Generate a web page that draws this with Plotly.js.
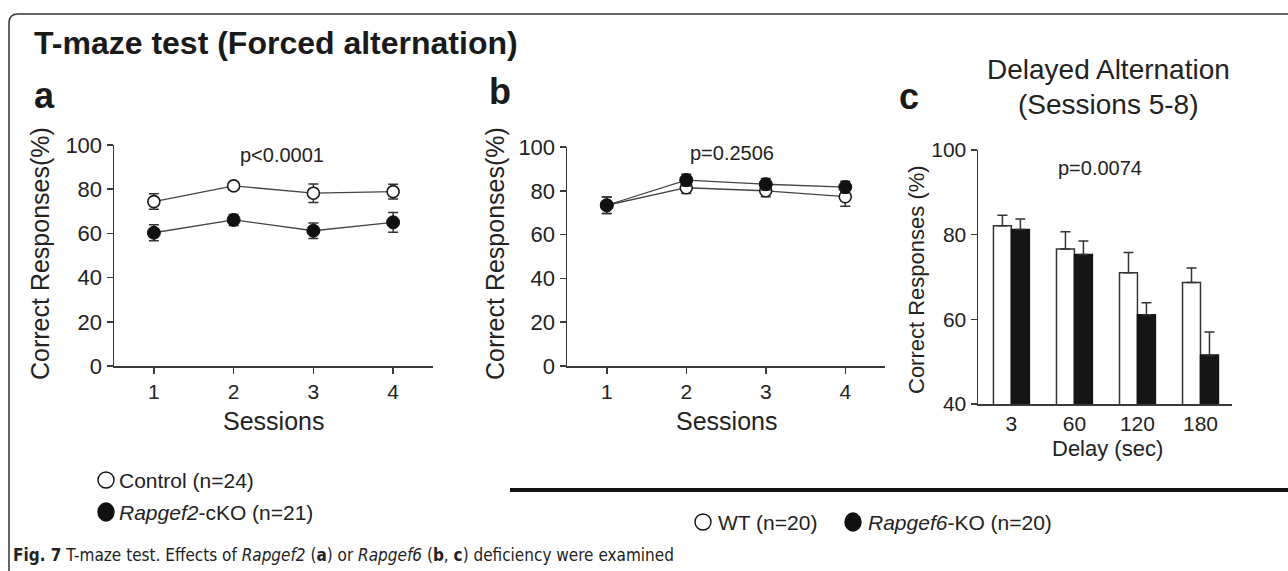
<!DOCTYPE html>
<html>
<head>
<meta charset="utf-8">
<script src="https://cdn.plot.ly/plotly-3.0.1.min.js"></script>
<style>html,body{margin:0;padding:0;background:#fff;}#chart{width:1288px;height:571px;}</style>
</head>
<body>
<div id="chart"></div>
<script>
// ---- data ----
const sessions = [1, 2, 3, 4];
const sessionTicks = ['1', '2', '3', '4'];
// panel a: Rapgef2 cohort
const aControl = [74.4, 81.5, 78.2, 78.9];
const aControlErr = [3.5, 1.8, 4.2, 3.3];
const aCKO = [60.3, 66.1, 61.2, 65.0];
const aCKOErr = [3.6, 2.5, 3.5, 4.5];
// panel b: Rapgef6 cohort, forced alternation
const bWT = [73.4, 81.4, 80.0, 77.3];
const bWTErr = [3.8, 2.6, 2.7, 4.3];
const bKO = [73.4, 84.9, 83.0, 81.7];
const bKOErr = [3.8, 2.7, 2.6, 2.7];
// panel c: delayed alternation (sessions 5-8)
const delays = ['3', '60', '120', '180'];
const cWT = [82.1, 76.6, 71.0, 68.7];
const cWTErr = [2.5, 4.1, 4.8, 3.4];
const cKO = [81.2, 75.3, 61.1, 51.6];
const cKOErr = [2.5, 3.2, 2.8, 5.4];
const noErr = [0, 0, 0, 0];
const abTicksY = [0, 20, 40, 60, 80, 100];
const cTicksY = [40, 60, 80, 100];

// ---- layout helpers ----
const W = 1288, H = 571;
const px = x => x / W;
const py = y => 1 - y / H;
const FONT = 'Liberation Sans, Arial, Helvetica, sans-serif';
const INK = '#222';
const AX = '#3a3a3a';

const openMarker = {symbol: 'circle', size: 12, color: '#fff', line: {color: '#1a1a1a', width: 1.6}};
const fillMarker = {symbol: 'circle', size: 13, color: '#111', line: {color: '#111', width: 1}};
const lineStyle = {color: '#444', width: 1.3};
const err = arr => ({type: 'data', array: arr, visible: true, color: '#333', thickness: 1.5, width: 5});

const traces = [
  {x: sessions, y: aControl, error_y: err(aControlErr), type: 'scatter', mode: 'lines+markers',
   line: lineStyle, marker: openMarker, xaxis: 'x', yaxis: 'y', name: 'Control (n=24)'},
  {x: sessions, y: aCKO, error_y: err(aCKOErr), type: 'scatter', mode: 'lines+markers',
   line: lineStyle, marker: fillMarker, xaxis: 'x', yaxis: 'y', name: 'Rapgef2-cKO (n=21)'},
  {x: sessions, y: bWT, error_y: err(bWTErr), type: 'scatter', mode: 'lines+markers',
   line: lineStyle, marker: openMarker, xaxis: 'x2', yaxis: 'y2', name: 'WT (n=20)'},
  {x: sessions, y: bKO, error_y: err(bKOErr), type: 'scatter', mode: 'lines+markers',
   line: lineStyle, marker: fillMarker, xaxis: 'x2', yaxis: 'y2', name: 'Rapgef6-KO (n=20)'},
  {x: delays, y: cWT, type: 'bar', xaxis: 'x3', yaxis: 'y3', name: 'WT (n=20)',
   marker: {color: '#fff', line: {color: '#333', width: 1.5}},
   error_y: Object.assign(err(cWTErr), {symmetric: false, arrayminus: noErr})},
  {x: delays, y: cKO, type: 'bar', xaxis: 'x3', yaxis: 'y3', name: 'Rapgef6-KO (n=20)',
   marker: {color: '#151515', line: {color: '#151515', width: 1.5}},
   error_y: Object.assign(err(cKOErr), {symmetric: false, arrayminus: noErr})}
];

function axisBase(extra) {
  return Object.assign({
    showline: true, linecolor: AX, linewidth: 1.5, ticks: 'outside', ticklen: 6,
    tickcolor: AX, tickwidth: 1.5, showgrid: false, zeroline: false, fixedrange: true,
    tickfont: {family: FONT, size: 21, color: INK}
  }, extra);
}

function ann(text, x, y, size, opts) {
  return Object.assign({
    text: text, x: px(x), y: py(y), xref: 'paper', yref: 'paper', showarrow: false,
    xanchor: 'center', yanchor: 'middle', font: {family: FONT, size: size, color: INK}
  }, opts || {});
}

const annotations = [
  ann('<b>T-maze test (Forced alternation)</b>', 32, 43, 32, {xanchor: 'left', font: {family: FONT, size: 32, color: '#1a1a1a'}}),
  ann('<b>a</b>', 45, 95, 36, {font: {family: FONT, size: 36, color: '#1a1a1a'}}),
  ann('<b>b</b>', 500, 91, 36, {font: {family: FONT, size: 36, color: '#1a1a1a'}}),
  ann('<b>c</b>', 909, 97, 36, {font: {family: FONT, size: 36, color: '#1a1a1a'}}),
  ann('Delayed Alternation', 1108, 70, 28),
  ann('(Sessions 5-8)', 1108, 104, 28),
  ann('p<0.0001', 282, 155, 20),
  ann('p=0.2506', 732, 153, 20),
  ann('p=0.0074', 1100, 168, 20),
  ann('Sessions', 273, 421, 25),
  ann('Sessions', 726, 421, 25),
  ann('Delay (sec)', 1107, 448, 22),
  ann('Correct Responses(%)', 40, 254, 25, {textangle: -90}),
  ann('Correct Responses(%)', 495, 254, 25, {textangle: -90}),
  ann('Correct Responses (%)', 917, 280, 22, {textangle: -90}),
  ann('Control (n=24)', 117, 480, 21, {xanchor: 'left'}),
  ann('<i>Rapgef2</i>-cKO (n=21)', 117, 512, 21, {xanchor: 'left'}),
  ann('WT (n=20)', 716, 522, 21, {xanchor: 'left'}),
  ann('<i>Rapgef6</i>-KO (n=20)', 866, 522, 21, {xanchor: 'left'}),
  ann('<b>Fig. 7</b> T-maze test. Effects of <i>Rapgef2</i> (<b>a</b>) or <i>Rapgef6</i> (<b>b</b>, <b>c</b>) deficiency were examined',
      11, 555, 17, {xanchor: 'left', font: {family: 'Liberation Sans Narrow, Arial Narrow, DejaVu Sans Condensed, sans-serif', size: 17, color: INK}})
];

function circ(cx, cy, rx, ry, filled) {
  return {type: 'circle', xref: 'paper', yref: 'paper',
    x0: px(cx - rx), x1: px(cx + rx), y0: py(cy + ry), y1: py(cy - ry),
    line: {color: '#111', width: 1.4}, fillcolor: filled ? '#111' : 'rgba(0,0,0,0)'};
}

const r = 9, fx = 9, fy = 14;
const shapes = [
  // rounded frame (top + left sides)
  {type: 'path', xref: 'paper', yref: 'paper',
   path: `M ${px(fx)},${py(H)} L ${px(fx)},${py(fy + r)} Q ${px(fx)},${py(fy)} ${px(fx + r)},${py(fy)} L ${px(W)},${py(fy)}`,
   line: {color: '#333', width: 1.5}},
  // thick rule above panel b/c legend
  {type: 'line', xref: 'paper', yref: 'paper', x0: px(510), x1: px(W), y0: py(490), y1: py(490),
   line: {color: '#111', width: 4}},
  circ(106, 480, 8, 8, false),
  circ(106, 512, 8, 9, true),
  circ(703, 522, 8, 8, false),
  circ(853, 522, 8, 9, true)
];

const layout = {
  width: W, height: H, margin: {l: 0, r: 0, t: 0, b: 0},
  paper_bgcolor: '#fff', plot_bgcolor: 'rgba(0,0,0,0)', showlegend: false,
  font: {family: FONT, color: INK},
  barmode: 'group', bargap: 0.43, bargroupgap: 0,
  xaxis: axisBase({domain: [px(114), px(433)], anchor: 'y', range: [0.5, 4.5], tickvals: sessions, ticktext: sessionTicks}),
  yaxis: axisBase({domain: [py(366), py(145)], anchor: 'x', range: [0, 100], tickvals: abTicksY, tickfont: {family: FONT, size: 22, color: INK}}),
  xaxis2: axisBase({domain: [px(567), px(885)], anchor: 'y2', range: [0.5, 4.5], tickvals: sessions, ticktext: sessionTicks}),
  yaxis2: axisBase({domain: [py(366), py(147)], anchor: 'x2', range: [0, 100], tickvals: abTicksY, tickfont: {family: FONT, size: 22, color: INK}}),
  xaxis3: axisBase({domain: [px(978), px(1232)], anchor: 'y3', type: 'category', range: [-0.53, 3.5], ticks: ''}),
  yaxis3: axisBase({domain: [py(404), py(150)], anchor: 'x3', range: [40, 100], tickvals: cTicksY}),
  annotations: annotations,
  shapes: shapes
};

Plotly.newPlot('chart', traces, layout, {displayModeBar: false, staticPlot: true});
</script>
</body>
</html>
